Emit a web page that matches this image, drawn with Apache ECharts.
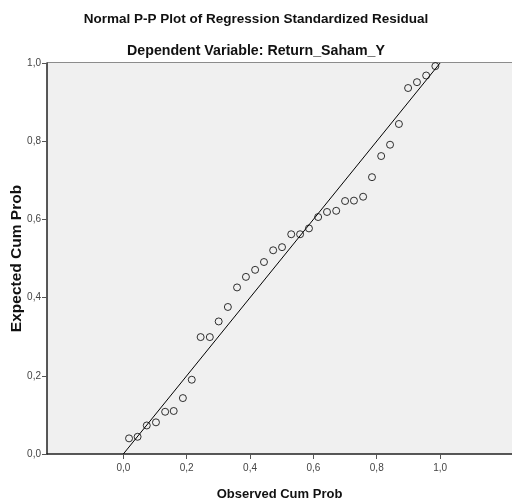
<!DOCTYPE html>
<html><head><meta charset="utf-8">
<script src="https://cdn.jsdelivr.net/npm/echarts@6/dist/echarts.min.js"></script>
<style>html,body{margin:0;padding:0;background:#fff}#c{width:512px;height:499px}</style>
</head><body><div id="c"></div>
<script>
const observed = [0.018,0.045,0.074,0.103,0.132,0.159,0.188,0.216,0.244,0.273,0.301,0.330,0.359,0.387,0.416,0.444,0.473,0.501,0.530,0.558,0.586,0.615,0.643,0.672,0.700,0.728,0.757,0.785,0.814,0.842,0.870,0.899,0.927,0.956,0.985];
const expected = [0.040,0.044,0.073,0.081,0.108,0.110,0.143,0.190,0.299,0.299,0.339,0.376,0.426,0.453,0.471,0.491,0.521,0.529,0.562,0.562,0.577,0.606,0.619,0.622,0.647,0.648,0.658,0.708,0.762,0.791,0.844,0.936,0.951,0.968,0.992];
const refLine = [[0,0],[1,1]];
const xTicks = [0,0.2,0.4,0.6,0.8,1.0];
const yTicks = [0,0.2,0.4,0.6,0.8,1.0];
const titleText = 'Normal P-P Plot of Regression Standardized Residual';
const subtitleText = 'Dependent Variable: Return_Saham_Y';

const pts = observed.map((v,i)=>[v,expected[i]]);
const fmt = v => v.toFixed(1).replace('.', ',');
const chart = echarts.init(document.getElementById('c'));
const font = '"Liberation Sans",Arial,sans-serif';
chart.setOption({
  animation:false,
  backgroundColor:'#fff',
  title:[
    {text:titleText,left:'center',top:7,textStyle:{fontFamily:font,fontWeight:'bold',fontSize:13.5,color:'#111'}},
    {text:subtitleText,left:'center',top:39,textStyle:{fontFamily:font,fontWeight:'bold',fontSize:14.2,color:'#111'}}
  ],
  grid:{left:47,right:0,top:63,bottom:45,containLabel:false,outerBoundsMode:'none',show:true,backgroundColor:'#f0f0f0',borderWidth:0},
  xAxis:{type:'value',min:-0.241,max:1.227,
    name:'Observed Cum Prob',nameLocation:'middle',nameGap:34,nameMoveOverlap:false,
    nameTextStyle:{fontFamily:font,fontWeight:'bold',fontSize:13,color:'#111'},
    axisLine:{show:true,onZero:false,lineStyle:{color:'#222',width:1.5}},
    axisTick:{show:true,length:5,customValues:xTicks,lineStyle:{color:'#555'}},
    axisLabel:{customValues:xTicks,formatter:fmt,fontFamily:font,fontSize:10,color:'#444',margin:9},
    splitLine:{show:false}},
  yAxis:{type:'value',min:0,max:1,
    name:'Expected Cum Prob',nameLocation:'middle',nameGap:22,nameRotate:90,nameMoveOverlap:false,
    nameTextStyle:{fontFamily:font,fontWeight:'bold',fontSize:15.5,color:'#111'},
    axisLine:{show:true,onZero:false,lineStyle:{color:'#222',width:1.5}},
    axisTick:{show:true,length:5,customValues:yTicks,lineStyle:{color:'#555'}},
    axisLabel:{customValues:yTicks,formatter:fmt,fontFamily:font,fontSize:10,color:'#444',margin:6},
    splitLine:{show:false}},
  series:[
    {type:'line',data:refLine,symbol:'none',silent:true,lineStyle:{color:'#000',width:1},z:2},
    {type:'scatter',data:pts,symbol:'circle',symbolSize:7,
     itemStyle:{color:'transparent',borderColor:'#000',borderWidth:1},z:3},
    {type:'line',data:[[-0.241,1.0026],[1.227,1.0026]],symbol:'none',silent:true,lineStyle:{color:'#333',width:1.5},z:1}
  ]
});
</script></body></html>
